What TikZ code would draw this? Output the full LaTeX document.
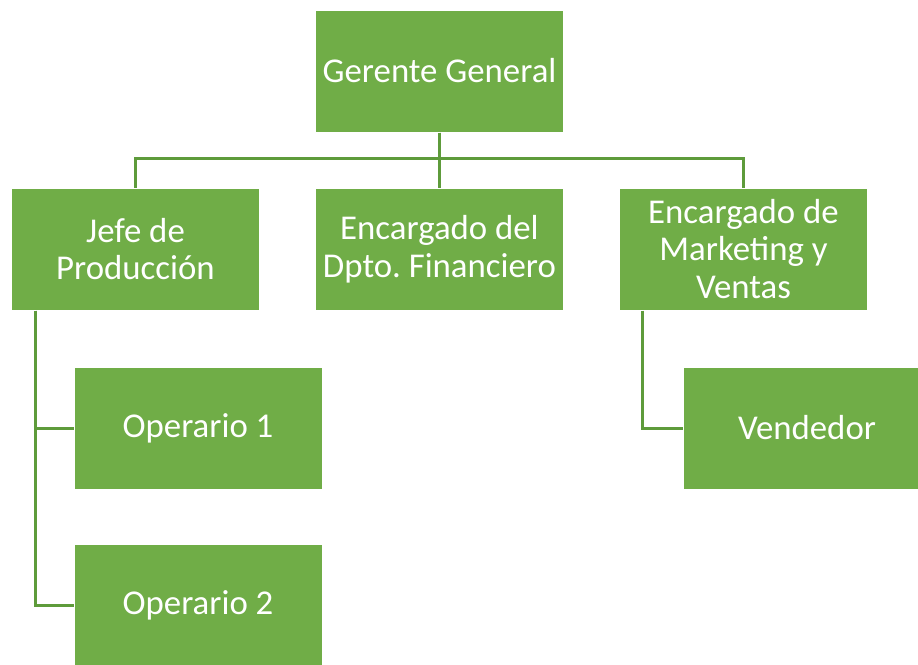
\documentclass[tikz,border=0pt]{standalone}
\usepackage{fontspec}
\setmainfont{Carlito}
\usetikzlibrary{positioning}
\frenchspacing

\definecolor{boxgreen}{HTML}{70AD47}
\definecolor{linegreen}{HTML}{5E9B3B}

\tikzset{
	orgbox/.style={draw=white, line width=1pt, fill=boxgreen, text=white,
		minimum width=248pt, minimum height=122pt, inner sep=0pt, align=center,
		font=\fontsize{34.8}{37.5}\selectfont},
	orgline/.style={draw=linegreen, line width=3pt}
}

\begin{document}
\begin{tikzpicture}[x=1pt, y=1pt]
\useasboundingbox (0,0) rectangle (918,-664);

\pgfmathsetmacro{\colA}{135.5}
\pgfmathsetmacro{\colB}{439.5}
\pgfmathsetmacro{\colC}{743.5}
\pgfmathsetmacro{\rowA}{-71}
\pgfmathsetmacro{\rowB}{-249}
\pgfmathsetmacro{\rowC}{-428}
\pgfmathsetmacro{\rowD}{-605}

\node[orgbox] (gerente) at (\colB, \rowA) {Gerente General};

\node[orgbox] (jefe) at (\colA, \rowB) {Jefe de\\Producción};
\node[orgbox] (finanzas) at (\colB, \rowB) {Encargado del\\Dpto. Financiero};
\node[orgbox] (marketing) at (\colC, \rowB) {Encargado de\\Marketing y\\Ventas};

\node[orgbox] (operario1) at (198, \rowC) {Operario 1};
\node[orgbox] (operario2) at (198, \rowD) {Operario 2};
\node[orgbox] (vendedor) at (807, \rowC) {Vendedor};

% top level
\draw[orgline] (gerente.south) -- ++(0,-26) -| (jefe.north);
\draw[orgline] (gerente.south) -- (finanzas.north);
\draw[orgline] (gerente.south) -- ++(0,-26) -| (marketing.north);

% second level
\draw[orgline] ([xshift=24.5pt]jefe.south west) |- (operario1.west);
\draw[orgline] ([xshift=24.5pt]jefe.south west) |- (operario2.west);
\draw[orgline] ([xshift=23pt]marketing.south west) |- (vendedor.west);
\end{tikzpicture}
\end{document}
